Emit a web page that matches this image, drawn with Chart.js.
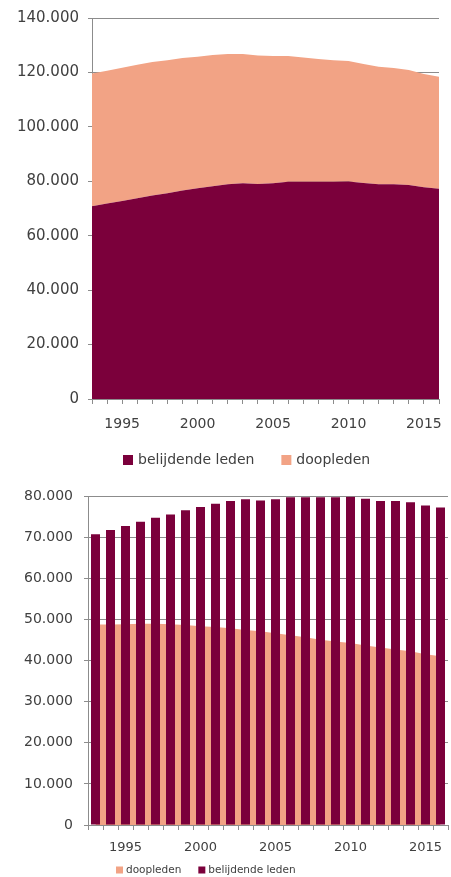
<!DOCTYPE html>
<html>
<head>
<meta charset="utf-8">
<script src="https://cdn.jsdelivr.net/npm/chart.js@4"></script>
<style>
  body { margin: 0; background: #fff; }
  .box { position: relative; width: 451px; }
  #top-box { height: 477px; }
  #bottom-box { height: 400px; }
</style>
</head>
<body>
<div class="box" id="top-box"><canvas id="area-chart"></canvas></div>
<div class="box" id="bottom-box"><canvas id="bar-chart"></canvas></div>
<script>
// data

const years = ["1993", "1994", "1995", "1996", "1997", "1998", "1999", "2000", "2001", "2002", "2003", "2004",
    "2005", "2006", "2007", "2008", "2009", "2010", "2011", "2012", "2013", "2014", "2015", "2016"];
const belijdendeLeden = [70800, 71850, 72800, 73800, 74800, 75600, 76600, 77400, 78200, 78900, 79300, 79000,
    79300, 79800, 79800, 79800, 79800, 79900, 79400, 78900, 78900, 78600, 77800, 77300];
const doopleden = [48800, 48800, 48900, 49000, 49000, 48850, 48700, 48400, 48200, 47900, 47500, 47200,
    46700, 46200, 45700, 45100, 44700, 44300, 43700, 43200, 42700, 42300, 41600, 41100];

const maroon = "#7b003b";
const salmon = "#f2a385";
const gridGray = "#8c8c8c";
const textGray = "#404040";
const fontFamily = "'DejaVu Sans', sans-serif";

// helpers

function dutchNumber(v) {
    return String(v).replace(/\B(?=(\d{3})+(?!\d))/g, ".");
}

function yearTick(val) {
    const y = this.getLabelForValue(val);
    return Number(y) % 5 === 0 ? y : "";
}

// legend like excel draws it: small square, label, wide gap
const excelLegend = {
    id: 'excelLegend',
    afterDraw(chart, args, opts) {
        const ctx = chart.ctx;
        ctx.save();
        ctx.font = `${opts.size}px ${fontFamily}`;
        ctx.textBaseline = 'middle';
        let x = opts.x;
        opts.order.forEach((i) => {
            const ds = chart.data.datasets[i];
            ctx.fillStyle = ds.backgroundColor;
            ctx.fillRect(x, opts.y - opts.box / 2, opts.box, opts.box);
            x += opts.box + opts.textGap;
            ctx.fillStyle = textGray;
            ctx.fillText(ds.label, x, opts.y);
            x += ctx.measureText(ds.label).width + opts.gap;
        });
        ctx.restore();
    }
};

Chart.defaults.font.family = fontFamily;
Chart.defaults.color = textGray;
Chart.defaults.animation = false;

// top: stacked area

new Chart(document.querySelector("#area-chart"), {
    type: 'line',
    data: {
        labels: years,
        datasets: [{
            label: 'belijdende leden',
            data: belijdendeLeden,
            backgroundColor: maroon,
            borderColor: maroon,
            borderWidth: 0,
            pointRadius: 0,
            fill: 'origin'
        }, {
            label: 'doopleden',
            data: doopleden,
            backgroundColor: salmon,
            borderColor: salmon,
            borderWidth: 0,
            pointRadius: 0,
            fill: '-1'
        }]
    },
    plugins: [excelLegend],
    options: {
        responsive: true,
        maintainAspectRatio: false,
        layout: { padding: { top: 9, right: 3, left: 0, bottom: 36 } },
        plugins: {
            tooltip: { enabled: false },
            legend: { display: false },
            excelLegend: { x: 123, y: 460, box: 10, textGap: 5, gap: 27, size: 14, order: [0, 1] }
        },
        scales: {
            x: {
                offset: false,
                grid: { drawOnChartArea: false, tickLength: 5, color: gridGray },
                border: { color: gridGray },
                ticks: { callback: yearTick, autoSkip: false, maxRotation: 0, padding: 12, font: { size: 14 } },
                afterFit: (s) => { s.height = 42; }
            },
            y: {
                stacked: true,
                min: 0,
                max: 140000,
                grid: { color: gridGray, tickLength: 4 },
                border: { color: gridGray },
                ticks: { stepSize: 20000, callback: dutchNumber, padding: 9, font: { size: 15 } },
                afterFit: (s) => { s.width = 92; }
            }
        }
    }
});

// bottom: columns over area

new Chart(document.querySelector("#bar-chart"), {
    type: 'bar',
    data: {
        labels: years,
        datasets: [{
            type: 'line',
            label: 'doopleden',
            data: doopleden,
            backgroundColor: salmon,
            borderColor: salmon,
            borderWidth: 0,
            pointRadius: 0,
            fill: 'origin',
            order: 2
        }, {
            type: 'bar',
            label: 'belijdende leden',
            data: belijdendeLeden,
            backgroundColor: maroon,
            barPercentage: 0.6,
            categoryPercentage: 1,
            order: 1
        }]
    },
    plugins: [excelLegend],
    options: {
        responsive: true,
        maintainAspectRatio: false,
        layout: { padding: { top: 13, right: 3, left: 0, bottom: 25 } },
        plugins: {
            tooltip: { enabled: false },
            legend: { display: false },
            excelLegend: { x: 116, y: 393, box: 7, textGap: 3, gap: 17, size: 10.5, order: [0, 1] }
        },
        scales: {
            x: {
                grid: { drawOnChartArea: false, tickLength: 5, color: gridGray },
                border: { color: gridGray },
                ticks: { callback: yearTick, autoSkip: false, maxRotation: 0, padding: 10, font: { size: 13 } },
                afterFit: (s) => { s.height = 27; }
            },
            y: {
                min: 0,
                max: 80000,
                grid: { color: gridGray, tickLength: 4 },
                border: { color: gridGray },
                ticks: { stepSize: 10000, callback: dutchNumber, padding: 11, font: { size: 14 } },
                afterFit: (s) => { s.width = 88; }
            }
        }
    }
});
</script>
</body>
</html>
